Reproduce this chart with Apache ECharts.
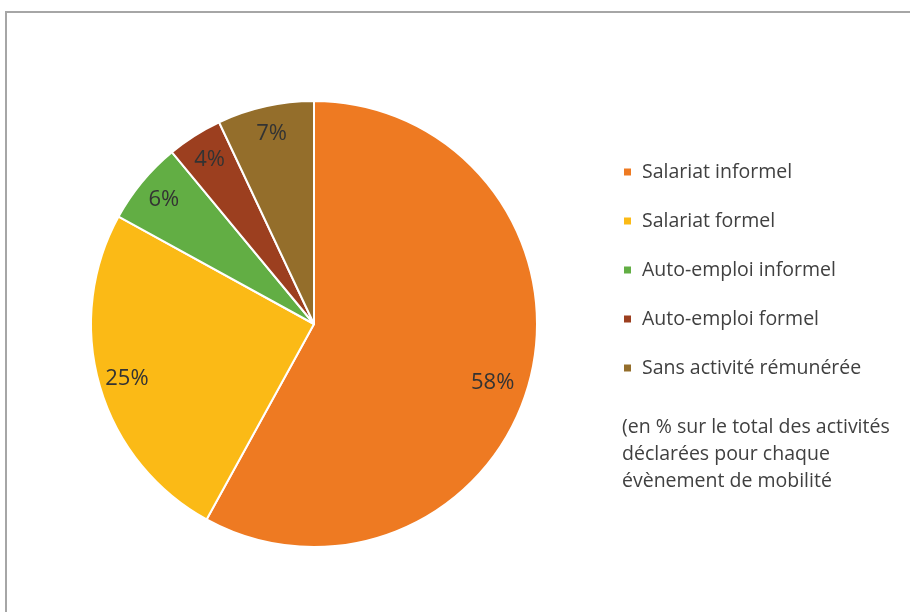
<!DOCTYPE html>
<html><head><meta charset="utf-8">
<script src="https://cdn.jsdelivr.net/npm/echarts@6/dist/echarts.min.js"></script>
<style>html,body{margin:0;padding:0;background:#fff}#c{width:910px;height:612px}</style>
</head><body><div id="c"></div>
<script>
const categories = ['Salariat informel','Salariat formel','Auto-emploi informel','Auto-emploi formel','Sans activité rémunérée'];
const values = [58, 25, 6, 4, 7];
const colors = ['#EE7A22','#FBBA16','#62AE44','#9C3F1F','#946E2B'];
const noteLines = ['(en % sur le total des activités','déclarées pour chaque','évènement de mobilité'];

const font = '"Open Sans", "Noto Sans", sans-serif';
const chart = echarts.init(document.getElementById('c'));
const data = categories.map((n,i)=>({name:n, value:values[i], itemStyle:{color:colors[i]}}));
const R = 223;
const labelData = categories.map((n,i)=>{
  const d = {name:n, value:values[i]};
  if (i === 0) d.label = {offset:[-10,10]};
  return d;
});
chart.setOption({
  animation:false,
  backgroundColor:'#fff',
  legend:{
    orient:'vertical', left:622, top:162, padding:0,
    itemWidth:9, itemHeight:9, itemGap:29, icon:'rect',
    textStyle:{fontFamily:font, fontSize:19.5, color:'#404040', padding:[0,0,0,5]},
    data:categories
  },
  graphic:[
    {type:'rect', shape:{x:6,y:12,width:920,height:620}, style:{fill:'none', stroke:'#a6a6a6', lineWidth:2}, silent:true},
    {type:'text', left:622, top:414, style:{text:noteLines.join('\n'), fontFamily:font, fontSize:19.5, lineHeight:27, fill:'#404040'}}
  ],
  series:[
    {type:'pie', center:[314,324], radius:[0,R], startAngle:90, clockwise:true,
     data:data, label:{show:false}, labelLine:{show:false},
     itemStyle:{borderColor:'#fff', borderWidth:2}, silent:true},
    {type:'pie', center:[314,324], radius:[R*0.72,R], startAngle:90, clockwise:true,
     data:labelData,
     itemStyle:{color:'rgba(0,0,0,0)', borderWidth:0},
     label:{show:true, position:'inside', formatter:'{c}%', fontFamily:font, fontSize:22, color:'#333'},
     labelLine:{show:false}, silent:true, legendHoverLink:false}
  ]
});
</script></body></html>
